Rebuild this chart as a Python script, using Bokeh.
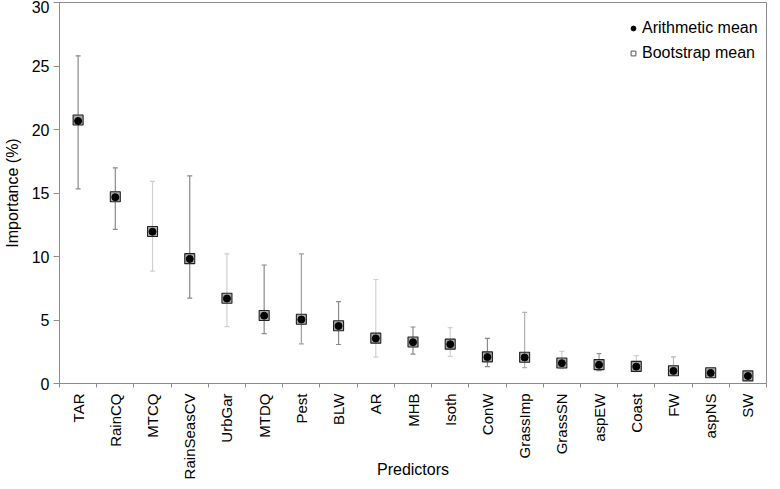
from bokeh.plotting import figure
from bokeh.models import FixedTicker, Legend, LegendItem, ColumnDataSource, Range1d
from bokeh.embed import file_html
from bokeh.resources import INLINE
import math

predictors = ["TAR", "RainCQ", "MTCQ", "RainSeasCV", "UrbGar", "MTDQ", "Pest", "BLW", "AR",
              "MHB", "Isoth", "ConW", "GrassImp", "GrassSN", "aspEW", "Coast", "FW", "aspNS", "SW"]
arith_mean = [20.67, 14.67, 11.95, 9.81, 6.69, 5.34, 5.04, 4.53, 3.55, 3.25, 3.09, 2.08, 2.05,
              1.60, 1.47, 1.33, 0.99, 0.83, 0.59]
boot_mean = [20.75, 14.70, 11.97, 9.83, 6.71, 5.36, 5.06, 4.55, 3.57, 3.27, 3.10, 2.10, 2.07,
             1.62, 1.49, 1.35, 1.00, 0.85, 0.60]
upper = [25.8, 16.98, 15.92, 16.35, 10.21, 9.33, 10.2, 6.45, 8.19, 4.45, 4.4, 3.55, 5.6,
         2.53, 2.35, 2.19, 2.1, 1.15, 0.93]
lower = [15.33, 12.13, 8.85, 6.72, 4.48, 3.92, 3.12, 3.07, 2.08, 2.32, 2.13, 1.33, 1.25,
         1.17, 1.01, 0.93, 0.67, 0.53, 0.32]
y_ticks = [0, 5, 10, 15, 20, 25, 30]

# styles
err_colors = ["#8a8a8a", "#8a8a8a", "#d0d0d0", "#8a8a8a", "#d0d0d0", "#8a8a8a", "#a0a0a0", "#8a8a8a",
              "#d0d0d0", "#8a8a8a", "#d0d0d0", "#8a8a8a", "#b0b0b0", "#d0d0d0", "#9a9a9a", "#d0d0d0",
              "#b8b8b8", "#8a8a8a", "#8a8a8a"]
FONT = "Liberation Sans"

xs = list(range(1, len(predictors) + 1))
src = ColumnDataSource(dict(x=xs, am=arith_mean, bm=boot_mean, up=upper, lo=lower, ec=err_colors))

p = figure(width=772, height=481, output_backend="svg", toolbar_location=None,
           x_range=Range1d(0.5, len(predictors) + 0.5), y_range=Range1d(0, 30),
           min_border_left=54, min_border_right=6, min_border_top=2, min_border_bottom=10)
p.xgrid.visible = False
p.ygrid.visible = False
p.outline_line_color = "#8c8c8c"
p.background_fill_color = "white"

p.segment(x0="x", y0="lo", x1="x", y1="up", line_color="ec", line_width=1.2, source=src)
p.scatter(x="x", y="up", marker="dash", size=5, line_color="ec", line_width=1.2, source=src)
p.scatter(x="x", y="lo", marker="dash", size=5, line_color="ec", line_width=1.2, source=src)

r_box = p.scatter(x="x", y="bm", marker="square", size=10, fill_color="#a8a8a8",
                  line_color="#222222", line_width=1.1, source=src)
r_dot = p.scatter(x="x", y="am", marker="circle", size=7, fill_color="black",
                  line_color="black", source=src)

# legend-only renderers
l_dot = p.scatter(x=[-10], y=[-10], marker="circle", size=7, fill_color="black", line_color="black")
l_box = p.scatter(x=[-10], y=[-10], marker="square", size=10, fill_color="white",
                  line_color="#555555", line_width=1)

legend = Legend(items=[LegendItem(label="Arithmetic mean", renderers=[l_dot]),
                       LegendItem(label="Bootstrap mean", renderers=[l_box])],
                location=(568, 320), border_line_color=None, background_fill_alpha=0,
                label_text_font=FONT, label_text_font_size="16px", label_text_color="black",
                glyph_width=12, glyph_height=16, label_standoff=3, label_height=20, spacing=5,
                padding=3, margin=0)
p.add_layout(legend)

xa = p.xaxis[0]
xa.ticker = FixedTicker(ticks=xs, minor_ticks=[i + 0.5 for i in range(0, len(predictors) + 1)])
xa.major_label_overrides = {x: name for x, name in zip(xs, predictors)}
xa.major_label_orientation = math.pi / 2
xa.major_tick_out = 0
xa.major_tick_in = 0
xa.minor_tick_out = 4
xa.minor_tick_in = 0
xa.minor_tick_line_color = "#8c8c8c"
xa.axis_line_color = "#8c8c8c"
xa.major_label_standoff = 6
xa.major_label_text_font = FONT
xa.major_label_text_font_size = "15px"
xa.major_label_text_color = "black"
xa.axis_label = "Predictors"
xa.axis_label_text_font = FONT
xa.axis_label_text_font_size = "16px"
xa.axis_label_text_font_style = "normal"
xa.axis_label_text_color = "black"
xa.axis_label_standoff = -21

ya = p.yaxis[0]
ya.ticker = FixedTicker(ticks=y_ticks)
ya.minor_tick_line_color = None
ya.major_tick_out = 6
ya.major_tick_in = 0
ya.major_tick_line_color = "#8c8c8c"
ya.axis_line_color = "#8c8c8c"
ya.major_label_standoff = 4
ya.major_label_text_font = FONT
ya.major_label_text_font_size = "16px"
ya.major_label_text_color = "black"
ya.axis_label = "Importance (%)"
ya.axis_label_text_font = FONT
ya.axis_label_text_font_size = "16px"
ya.axis_label_text_font_style = "normal"
ya.axis_label_text_color = "black"
ya.axis_label_standoff = 8

open("out.html", "w").write(file_html(p, INLINE))
